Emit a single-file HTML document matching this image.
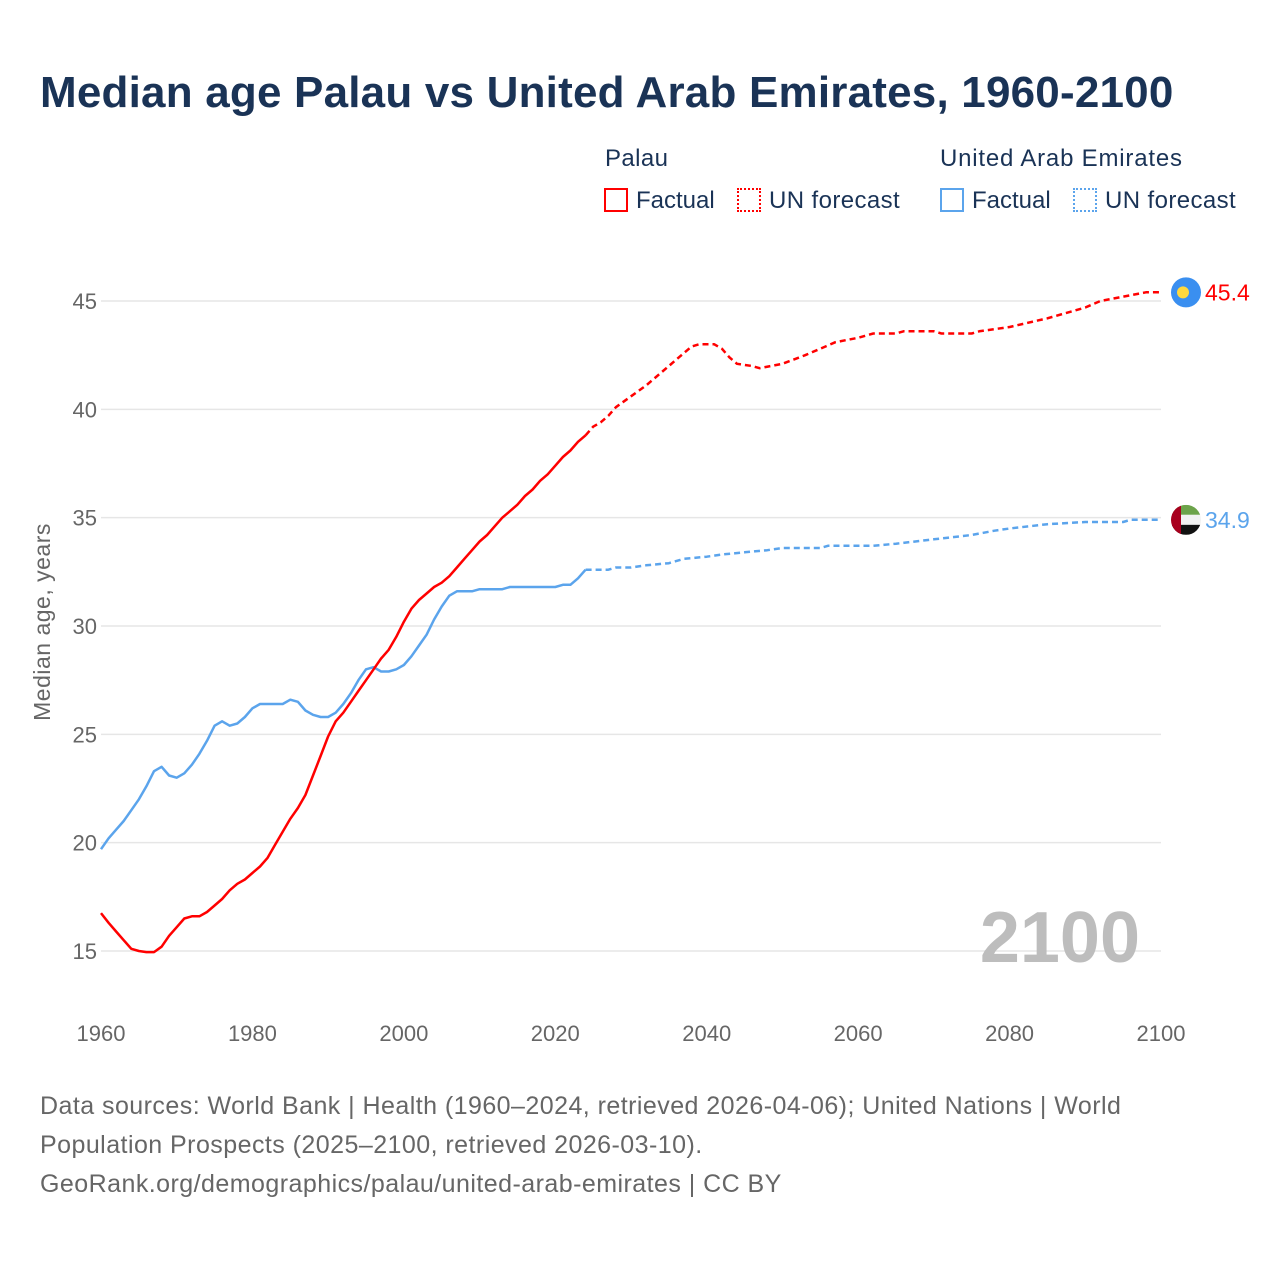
<!DOCTYPE html>
<html><head><meta charset="utf-8">
<style>
body{margin:0;background:#fff;font-family:"Liberation Sans",sans-serif;}
#wrap{position:relative;width:1280px;height:1280px;overflow:hidden;}
.t{position:absolute;white-space:nowrap;}
</style></head><body>
<div id="wrap">
<div class="t" style="left:40px;top:68px;font-size:44px;font-weight:bold;color:#1a3356;letter-spacing:0.2px;">Median age Palau vs United Arab Emirates, 1960-2100</div>
<div class="t" style="left:605px;top:145px;font-size:24px;color:#1a3356;letter-spacing:0.4px;">Palau</div>
<div class="t" style="left:940px;top:145px;font-size:24px;color:#1a3356;letter-spacing:0.8px;">United Arab Emirates</div>
<div class="t" style="left:604px;top:187px;font-size:24px;color:#1a3356;"><span style="display:inline-block;width:20px;height:20px;border:2px solid #f00;vertical-align:-4px;margin-right:8px;"></span>Factual</div>
<div class="t" style="left:737px;top:187px;font-size:24px;color:#1a3356;letter-spacing:0.4px;"><span style="display:inline-block;width:20px;height:20px;border:2px dotted #f00;vertical-align:-4px;margin-right:8px;"></span>UN forecast</div>
<div class="t" style="left:940px;top:187px;font-size:24px;color:#1a3356;"><span style="display:inline-block;width:20px;height:20px;border:2px solid #5ba4ec;vertical-align:-4px;margin-right:8px;"></span>Factual</div>
<div class="t" style="left:1073px;top:187px;font-size:24px;color:#1a3356;letter-spacing:0.4px;"><span style="display:inline-block;width:20px;height:20px;border:2px dotted #5ba4ec;vertical-align:-4px;margin-right:8px;"></span>UN forecast</div>
<svg id="chart" width="1280" height="1280" style="position:absolute;left:0;top:0;" xmlns="http://www.w3.org/2000/svg"></svg>
<div class="t" style="left:40px;top:1087px;font-size:25px;line-height:39px;color:#666;letter-spacing:0.45px;">Data sources: World Bank | Health (1960–2024, retrieved 2026-04-06); United Nations | World<br>Population Prospects (2025–2100, retrieved 2026-03-10).<br>GeoRank.org/demographics/palau/united-arab-emirates | CC BY</div>
</div>
<script>
const yTicks=[15,20,25,30,35,40,45];
const xTicks=[1960,1980,2000,2020,2040,2060,2080,2100];
const factYears=[];for(let y=1960;y<=2024;y++)factYears.push(y);
const palauFactual=[16.75,16.3,15.9,15.5,15.1,15.0,14.95,14.95,15.2,15.7,16.1,16.5,16.6,16.6,16.8,17.1,17.4,17.8,18.1,18.3,18.6,18.9,19.3,19.9,20.5,21.1,21.6,22.2,23.1,24.0,24.9,25.6,26.0,26.5,27.0,27.5,28.0,28.5,28.9,29.5,30.2,30.8,31.2,31.5,31.8,32.0,32.3,32.7,33.1,33.5,33.9,34.2,34.6,35.0,35.3,35.6,36.0,36.3,36.7,37.0,37.4,37.8,38.1,38.5,38.8];
const uaeFactual=[19.7,20.2,20.6,21.0,21.5,22.0,22.6,23.3,23.5,23.1,23.0,23.2,23.6,24.1,24.7,25.4,25.6,25.4,25.5,25.8,26.2,26.4,26.4,26.4,26.4,26.6,26.5,26.1,25.9,25.8,25.8,26.0,26.4,26.9,27.5,28.0,28.1,27.9,27.9,28.0,28.2,28.6,29.1,29.6,30.3,30.9,31.4,31.6,31.6,31.6,31.7,31.7,31.7,31.7,31.8,31.8,31.8,31.8,31.8,31.8,31.8,31.9,31.9,32.2,32.6];
const palauFcYears=[2024,2025,2026,2027,2028,2030,2032,2034,2035,2036,2037,2038,2039,2041,2042,2043,2044,2046,2047,2050,2053,2055,2057,2060,2062,2065,2066,2070,2071,2075,2076,2080,2085,2090,2092,2095,2098,2100];
const palauFc=[38.8,39.2,39.4,39.7,40.1,40.6,41.1,41.7,42.0,42.3,42.6,42.9,43.0,43.0,42.8,42.4,42.1,42.0,41.9,42.1,42.5,42.8,43.1,43.3,43.5,43.5,43.6,43.6,43.5,43.5,43.6,43.8,44.2,44.7,45.0,45.2,45.4,45.4];
const uaeFcYears=[2024,2025,2027,2028,2030,2032,2035,2037,2040,2042,2045,2048,2050,2055,2056,2060,2062,2065,2070,2075,2078,2080,2085,2090,2095,2096,2100];
const uaeFc=[32.6,32.6,32.6,32.7,32.7,32.8,32.9,33.1,33.2,33.3,33.4,33.5,33.6,33.6,33.7,33.7,33.7,33.8,34.0,34.2,34.4,34.5,34.7,34.8,34.8,34.9,34.9];
const NS='http://www.w3.org/2000/svg';
const svg=document.getElementById('chart');
const X=v=>101+(v-1960)*1060/140;
const Y=v=>301+(45-v)*650/30;
function mk(tag,attrs){const e=document.createElementNS(NS,tag);for(const k in attrs)e.setAttribute(k,attrs[k]);svg.appendChild(e);return e;}
yTicks.forEach(t=>{
  const l=mk('line',{x1:101,x2:1161,y1:Y(t),y2:Y(t),stroke:'#e6e6e6','stroke-width':1.5});
  
  
  const tx=mk('text',{x:97,y:Y(t)+8,'text-anchor':'end','font-size':22,fill:'#666','font-family':'Liberation Sans, sans-serif'});
  tx.textContent=t;
  
  
});
xTicks.forEach(t=>{
  const tx=mk('text',{x:X(t),y:1041,'text-anchor':'middle','font-size':22,fill:'#666','font-family':'Liberation Sans, sans-serif'});
  tx.textContent=t;
  
  
});
const yt=mk('text',{x:0,y:0,transform:'translate(50,622) rotate(-90)','text-anchor':'middle','font-size':23,fill:'#666','letter-spacing':'0.5','font-family':'Liberation Sans, sans-serif'});
yt.textContent='Median age, years';


const yr=mk('text',{x:1140,y:962,'text-anchor':'end','font-size':72,'font-weight':'bold',fill:'#bdbdbd','font-family':'Liberation Sans, sans-serif'});
yr.textContent='2100';


function line(xs,vs,color,dash,name){
  const d=xs.map((x,i)=>(i?'L':'M')+X(x).toFixed(1)+' '+Y(vs[i]).toFixed(1)).join(' ');
  const p=mk('path',{d:d,fill:'none',stroke:color,'stroke-width':2.5,'stroke-linejoin':'round'});
  if(dash)p.setAttribute('stroke-dasharray','6 4');
  
  
}
line(factYears,uaeFactual,'#5ba4ec',false,'uae-factual-line');
line(uaeFcYears,uaeFc,'#5ba4ec',true,'uae-forecast-line');
line(factYears,palauFactual,'#ff0000',false,'palau-factual-line');
line(palauFcYears,palauFc,'#ff0000',true,'palau-forecast-line');
const pY=Y(palauFc[palauFc.length-1]), uY=Y(uaeFc[uaeFc.length-1]);
const g1=mk('g',{});
const c1=document.createElementNS(NS,'circle');c1.setAttribute('cx',1186);c1.setAttribute('cy',pY);c1.setAttribute('r',15);c1.setAttribute('fill','#3a8ff0');g1.appendChild(c1);
const c2=document.createElementNS(NS,'circle');c2.setAttribute('cx',1183);c2.setAttribute('cy',pY);c2.setAttribute('r',6);c2.setAttribute('fill','#ffd83d');g1.appendChild(c2);
const g2=mk('g',{});
const cp=mk('clipPath',{id:'uc'});const cc=document.createElementNS(NS,'circle');cc.setAttribute('cx',1186);cc.setAttribute('cy',uY);cc.setAttribute('r',15);cp.appendChild(cc);
g2.setAttribute('clip-path','url(#uc)');
[['#6ca34a',uY-15,10],['#f2f2f2',uY-5,10],['#111',uY+5,10]].forEach(s=>{const r=document.createElementNS(NS,'rect');r.setAttribute('x',1171);r.setAttribute('y',s[1]);r.setAttribute('width',30);r.setAttribute('height',s[2]);r.setAttribute('fill',s[0]);g2.appendChild(r);});
const rr=document.createElementNS(NS,'rect');rr.setAttribute('x',1171);rr.setAttribute('y',uY-15);rr.setAttribute('width',10);rr.setAttribute('height',30);rr.setAttribute('fill','#a8001e');g2.appendChild(rr);
const l1=mk('text',{x:1205,y:pY+8,'font-size':23,fill:'#ff0000','font-family':'Liberation Sans, sans-serif'});
l1.textContent=palauFc[palauFc.length-1].toFixed(1);


const l2=mk('text',{x:1205,y:uY+8,'font-size':23,fill:'#5ba4ec','font-family':'Liberation Sans, sans-serif'});
l2.textContent=uaeFc[uaeFc.length-1].toFixed(1);


</script>
</body></html>
